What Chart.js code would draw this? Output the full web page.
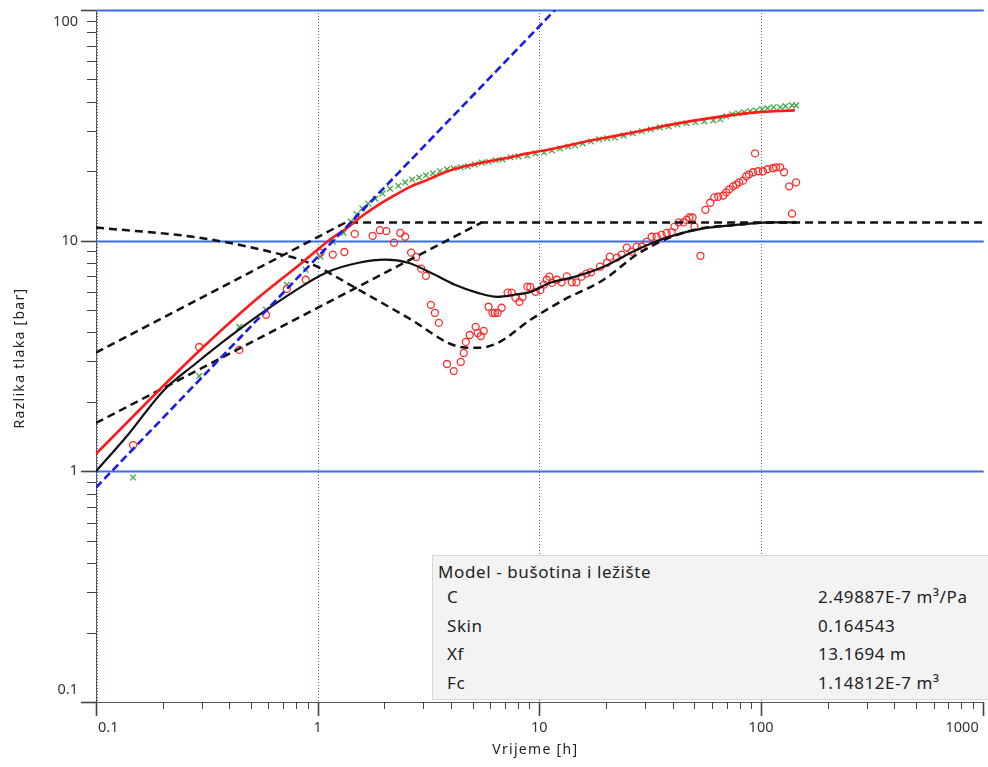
<!DOCTYPE html>
<html>
<head>
<meta charset="utf-8">
<script src="https://cdn.jsdelivr.net/npm/chart.js@4.4.0/dist/chart.umd.min.js"></script>
<style>
  body { margin: 0; background: #fff; }
  #wrap { position: relative; width: 988px; height: 767px; }
  #params {
    position: absolute; left: 432px; top: 555px; width: 556px; height: 145px;
    background: #f3f3f3; border: 1px solid #d6d6d6; border-right: none; box-sizing: border-box;
    font: 17px "Noto Sans", "Open Sans", sans-serif; letter-spacing: 0.6px; color: #222;
  }
  #params .ttl { position: absolute; left: 5px; top: 5px; line-height: 22px; }
  #params .rows { position: absolute; left: 0; top: 27px; width: 100%; }
  #params .row { position: relative; height: 28.7px; line-height: 28.7px; }
  #params .k { position: absolute; left: 14px; }
  #params .v { position: absolute; left: 385px; }
</style>
</head>
<body>
<div id="wrap">
  <canvas id="chart"></canvas>
  <div id="params">
    <div class="ttl">Model - bušotina i ležište</div>
    <div class="rows" id="paramRows"></div>
  </div>
</div>
<script>
// axes
const xMajor = [0.1, 1, 10, 100, 1000];
const yMajor = [0.1, 1, 10, 100];
const xTickLabels = ['0.1', '1', '10', '100', '1000'];
const yTickLabels = ['0.1', '1', '10', '100'];
const mantissas = [2, 3, 4, 5, 6, 7, 8, 9];
const xTitle = 'Vrijeme [h]';
const yTitle = 'Razlika tlaka [bar]';

// measured pressure change (green x)
const dpX = [0.147, 0.292, 0.443, 0.585, 0.726, 0.883, 1.03, 1.17, 1.31,
  1.41, 1.50, 1.59, 1.69, 1.82, 1.96, 2.12, 2.31, 2.48, 2.67, 2.87, 3.08, 3.31, 3.56, 3.83, 4.11, 4.42, 4.75,
  5.11, 5.50, 5.91, 6.35, 6.82, 7.41, 8.05, 8.83, 9.60, 10.5,
  11.4, 12.4, 13.5, 14.5, 15.7, 17.1, 18.6, 20.2, 21.9, 24.0,
  26.4, 29.0, 31.8, 34.9, 38.3, 42.0, 46.1, 50.6, 55.5,
  60.9, 65.5, 69.7, 74.1, 78.9, 83.9, 89.3, 95.0, 101, 107, 114, 122, 129, 138, 144];
const dpY = [0.94, 2.59, 4.23, 5.01, 6.44, 7.48, 8.52, 9.9, 10.8,
  12.1, 13.0, 13.8, 14.5, 15.2, 16.0, 16.8, 17.3, 17.9, 18.4, 18.8, 19.2, 19.6, 20.0, 20.4, 20.6, 20.8, 21.0,
  21.4, 21.8, 22.0, 22.3, 22.5, 23.0, 23.2, 23.4, 23.9, 24.1,
  24.6, 25.1, 25.6, 25.9, 26.4, 26.9, 27.5, 27.8, 28.0, 28.6,
  29.2, 29.8, 30.4, 31.0, 31.3, 31.9, 32.3, 32.6, 32.9,
  33.2, 33.6, 34.6, 35.3, 35.7, 36.0, 36.4, 36.7, 37.1, 37.5, 37.9, 37.9, 38.3, 38.6, 38.6];

// measured derivative (red circles)
const derX = [0.147, 0.292, 0.443, 0.585, 0.726, 0.883, 1.03, 1.17, 1.32, 1.47,
  1.77, 1.91, 2.04, 2.21, 2.36, 2.48, 2.64, 2.78, 2.93, 3.08,
  3.24, 3.38, 3.52, 3.83, 4.11, 4.42, 4.56, 4.66, 4.85, 5.16,
  5.27, 5.44, 5.61, 5.90, 6.15, 6.30, 6.48, 6.76, 7.19, 7.50,
  7.80, 8.13, 8.40, 8.83, 9.10, 9.60, 10.1, 10.5, 10.8, 11.1,
  11.4, 12.0, 12.6, 13.3, 14.0, 14.7, 15.5, 16.3, 17.1, 18.8,
  20.2, 20.8, 22.4, 23.5, 24.8, 26.1, 27.5, 29.0, 30.5, 32.1,
  33.8, 35.6, 37.5, 39.5, 40.7, 42.5, 44.7, 46.1, 47.5, 49.1,
  50.1, 53.3, 56.1, 59.0, 61.5, 64.1, 67.6, 69.7, 71.9, 74.8,
  77.3, 79.6, 83.0, 85.7, 88.3, 92.0, 94.0, 97.0, 102, 107,
  113, 117, 122, 127, 134, 138, 144];
const derY = [1.30, 3.46, 3.36, 4.77, 6.18, 6.77, 8.87, 8.70, 8.93, 10.7,
  10.5, 11.1, 11.0, 9.8, 10.8, 10.4, 8.87, 8.5, 7.56, 7.04,
  5.27, 4.86, 4.40, 2.92, 2.72, 2.98, 3.26, 3.64, 3.90, 4.23,
  3.98, 3.86, 4.06, 5.17, 4.86, 4.86, 4.86, 5.12, 5.95, 5.95,
  5.65, 5.43, 5.70, 6.32, 6.30, 6.00, 6.10, 6.45, 6.77, 6.98,
  6.56, 6.77, 6.60, 7.00, 6.60, 6.60, 6.98, 7.20, 7.30, 7.71,
  8.02, 8.52, 8.44, 8.70, 9.33, 8.96, 9.42, 9.42, 9.90, 10.4,
  10.4, 10.6, 10.8, 10.9, 11.5, 12.0, 12.0, 12.3, 12.6, 12.6,
  11.5, 8.6, 13.6, 14.6, 15.4, 15.5, 15.7, 16.2, 16.7, 17.2,
  17.5, 17.9, 18.2, 19.0, 19.4, 19.8, 23.9, 20.0, 20.0, 20.4,
  20.6, 20.8, 20.8, 19.8, 17.2, 13.1, 17.9];

// model pressure change (red line)
const modelX = [0.1, 0.28, 0.521, 0.822, 1.12, 1.38, 1.57, 1.88, 2.24, 2.64, 3.15, 3.75,
  4.42, 5.27, 6.28, 7.41, 8.84, 10.5, 12.4, 14.8, 24.0, 47.5, 95.0, 142];
const modelY = [1.19, 3.2, 5.5, 7.83, 10.0, 11.5, 12.7, 14.3, 15.8, 17.2, 18.4, 19.8,
  20.8, 21.6, 22.3, 23.0, 23.9, 24.6, 25.4, 26.4, 28.9, 32.9, 36.0, 36.7];

// model derivative (black line)
const modelDerX = [0.1, 0.141, 0.2, 0.28, 0.394, 0.561, 0.764, 1.09, 1.53, 2.02, 2.56, 3.24, 4.16,
  5.27, 6.48, 7.73, 9.12, 11.2, 14.4, 19.5, 27.5, 38.6, 55.0, 77.3, 109, 144];
const modelDerY = [1.0, 1.46, 2.22, 2.92, 3.79, 4.86, 5.94, 7.26, 8.02, 8.27, 8.02, 7.26, 6.44,
  5.94, 5.71, 5.83, 6.0, 6.57, 6.97, 7.71, 9.14, 10.4, 11.3, 11.7, 12.0, 12.0];

// second derivative curve (black dashed)
const altDerX = [0.1, 0.292, 0.69, 0.912, 1.53, 2.56, 4.42, 5.27, 6.48,
  9.12, 12.9, 19.5, 27.5, 38.6, 51.2, 77.3, 109, 144];
const altDerY = [11.4, 10.3, 8.70, 8.02, 6.13, 4.63, 3.46, 3.43, 3.60,
  4.54, 5.54, 6.77, 8.70, 10.3, 11.2, 11.7, 12.0, 12.0];

// straight guide lines
const halfSlopeAX = [0.1, 1.34, 1000];
const halfSlopeAY = [3.27, 12, 12];
const halfSlopeBX = [0.1, 5.5];
const halfSlopeBY = [1.62, 12];
const unitSlopeX = [0.1, 11.76];
const unitSlopeY = [0.85, 100];

// parameter box
const paramNames = ['C', 'Skin', 'Xf', 'Fc'];
const paramValues = ['2.49887E-7 m³/Pa', '0.164543', '13.1694 m', '1.14812E-7 m³'];

const rows = document.getElementById('paramRows');
paramNames.forEach((n, i) => {
    const r = document.createElement('div');
    r.className = 'row';
    r.innerHTML = `<span class="k">${n}</span><span class="v">${paramValues[i]}</span>`;
    rows.appendChild(r);
});

const pts = (xs, ys) => xs.map((x, i) => ({ x, y: ys[i] }));
const isMajor = v => Math.abs(Math.log10(v) - Math.round(Math.log10(v))) < 1e-9;

function logTicks(majors) {
    const out = [];
    majors.forEach((d, i) => {
        out.push(d);
        if (i < majors.length - 1) mantissas.forEach(m => out.push(parseFloat((m * d).toPrecision(6))));
    });
    return out.map(value => ({ value }));
}

const FONT = '"Noto Sans", "Open Sans", sans-serif';

// blue grid: dotted verticals, solid horizontals at the decades
const decadeGrid = {
    id: 'decadeGrid',
    beforeDatasetsDraw(chart) {
        const { ctx, chartArea: a, scales: { x, y } } = chart;
        ctx.save();
        ctx.strokeStyle = '#4169e1';
        ctx.lineWidth = 1;
        ctx.setLineDash([1, 2]);
        xMajor.slice(0, -1).forEach(v => {
            const px = Math.max(Math.round(x.getPixelForValue(v)), a.left + 1) + 0.5;
            ctx.beginPath();
            ctx.moveTo(px, a.top);
            ctx.lineTo(px, a.bottom);
            ctx.stroke();
        });
        ctx.setLineDash([]);
        ctx.strokeStyle = '#3a6ee0';
        ctx.lineWidth = 2;
        yMajor.slice(1).forEach(v => {
            const py = Math.round(y.getPixelForValue(v)) + 0.5;
            ctx.beginPath();
            ctx.moveTo(a.left + 1, py);
            ctx.lineTo(a.right + 1, py);
            ctx.stroke();
        });
        ctx.restore();
    }
};

// tick marks, edge-clamped labels and axis titles
const axisDecor = {
    id: 'axisDecor',
    afterDraw(chart) {
        const { ctx, chartArea: a, scales: { x, y } } = chart;
        ctx.save();
        ctx.strokeStyle = '#444';
        x.ticks.forEach(t => {
            const px = Math.round(x.getPixelForValue(t.value)) + 0.5;
            const major = isMajor(t.value);
            ctx.lineWidth = major ? 1.6 : 1;
            ctx.beginPath();
            ctx.moveTo(px, a.bottom);
            ctx.lineTo(px, a.bottom + (major ? 14 : 7));
            ctx.stroke();
        });
        y.ticks.forEach(t => {
            const py = Math.round(y.getPixelForValue(t.value)) + 0.5;
            const major = isMajor(t.value);
            ctx.lineWidth = major ? 1.6 : 1;
            ctx.beginPath();
            ctx.moveTo(a.left, py);
            ctx.lineTo(a.left - (major ? 15 : 9), py);
            ctx.stroke();
        });

        ctx.font = '14.5px ' + FONT;
        ctx.fillStyle = '#333';
        ctx.textBaseline = 'middle';
        ctx.textAlign = 'center';
        xMajor.forEach((v, i) => {
            const w = ctx.measureText(xTickLabels[i]).width;
            let cx = x.getPixelForValue(v);
            cx = Math.min(Math.max(cx, a.left + w / 2 + 2), a.right - w / 2 - 4);
            ctx.fillText(xTickLabels[i], cx, a.bottom + 26);
        });
        ctx.textAlign = 'right';
        yMajor.forEach((v, i) => {
            let cy = y.getPixelForValue(v);
            cy = Math.min(Math.max(cy, a.top + 12), a.bottom - 12);
            ctx.fillText(yTickLabels[i], a.left - 18, cy);
        });

        ctx.font = '14px ' + FONT;
        ctx.fillStyle = '#222';
        ctx.letterSpacing = '1.3px';
        ctx.textAlign = 'center';
        ctx.fillText(xTitle, (a.left + a.right) / 2 - 4, a.bottom + 48);
        ctx.translate(20, (a.top + a.bottom) / 2 + 2);
        ctx.rotate(-Math.PI / 2);
        ctx.fillText(yTitle, 0, 0);
        ctx.restore();
    }
};

const dashed = { borderColor: '#111', borderWidth: 2.5, borderDash: [8, 5], pointRadius: 0, showLine: true, order: 5 };

new Chart(document.getElementById('chart'), {
    type: 'scatter',
    data: {
        datasets: [
            { label: 'Δp', data: pts(dpX, dpY), pointStyle: 'crossRot', pointRadius: 4,
              borderColor: '#43a843', backgroundColor: '#43a843', borderWidth: 1.3, order: 7 },
            { label: 'Derivacija', data: pts(derX, derY), pointStyle: 'circle', pointRadius: 3.5,
              borderColor: '#ff2b2b', backgroundColor: 'rgba(0,0,0,0)', borderWidth: 1.3, order: 6 },
            { ...dashed, label: 'Model 2 derivacija', data: pts(altDerX, altDerY), cubicInterpolationMode: 'monotone' },
            { ...dashed, label: 'Polunagib 1', data: pts(halfSlopeAX, halfSlopeAY) },
            { ...dashed, label: 'Polunagib 2', data: pts(halfSlopeBX, halfSlopeBY) },
            { label: 'Model derivacija', data: pts(modelDerX, modelDerY), showLine: true, pointRadius: 0,
              borderColor: '#111', borderWidth: 2.2, cubicInterpolationMode: 'monotone', order: 4 },
            { label: 'Model Δp', data: pts(modelX, modelY), showLine: true, pointRadius: 0,
              borderColor: '#ff1a1a', borderWidth: 2.6, cubicInterpolationMode: 'monotone', order: 3 },
            { label: 'Jedinični nagib', data: pts(unitSlopeX, unitSlopeY), showLine: true, pointRadius: 0,
              borderColor: '#1a1aee', borderWidth: 2.6, borderDash: [8, 4], order: 2 }
        ]
    },
    options: {
        responsive: true,
        maintainAspectRatio: false,
        animation: false,
        events: [],
        layout: { padding: { top: 10, right: 1, left: 0, bottom: 0 } },
        plugins: { legend: { display: false }, tooltip: { enabled: false } },
        scales: {
            x: {
                type: 'logarithmic',
                min: xMajor[0], max: xMajor[xMajor.length - 1],
                afterBuildTicks: s => { s.ticks = logTicks(xMajor); },
                afterFit: s => { s.height = 65; },
                ticks: { display: false },
                grid: { display: false },
                border: { display: true, color: '#555', width: 1 }
            },
            y: {
                type: 'logarithmic',
                min: yMajor[0], max: yMajor[yMajor.length - 1],
                afterBuildTicks: s => { s.ticks = logTicks(yMajor); },
                afterFit: s => { s.width = 96; },
                ticks: { display: false },
                grid: { display: false },
                border: { display: true, color: '#555', width: 1 }
            }
        }
    },
    plugins: [decadeGrid, axisDecor]
});
</script>
</body>
</html>
